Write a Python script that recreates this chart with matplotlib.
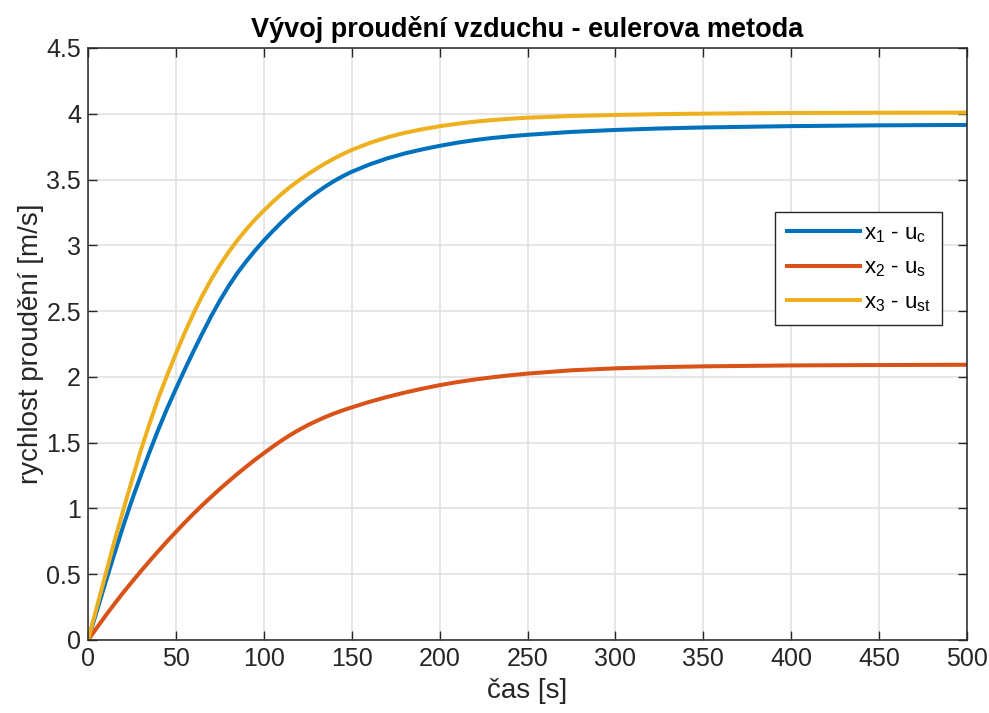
import numpy as np
import matplotlib
matplotlib.use("Agg")
import matplotlib.pyplot as plt
from matplotlib.ticker import FuncFormatter

plt.rcParams['font.family'] = ['Liberation Sans', 'DejaVu Sans']
plt.rcParams['mathtext.fontset'] = 'custom'
plt.rcParams['mathtext.rm'] = 'Liberation Sans'

# time samples [s]
t = list(range(0, 151, 5)) + list(range(160, 251, 10)) + [275, 300, 325, 350, 400, 450, 500]

# x1 - u_c
u_c = [0, 0.22, 0.44, 0.655, 0.865, 1.065, 1.25, 1.43, 1.60, 1.76, 1.91,
       2.055, 2.195, 2.33, 2.46, 2.58, 2.69, 2.79, 2.878, 2.96, 3.036,
       3.107, 3.174, 3.237, 3.296, 3.351, 3.401, 3.447, 3.489, 3.526, 3.559,
       3.614, 3.66, 3.698, 3.729, 3.756, 3.78, 3.80, 3.816, 3.829, 3.84,
       3.862, 3.877, 3.888, 3.896, 3.906, 3.912, 3.915]

# x2 - u_s
u_s = [0, 0.093, 0.185, 0.274, 0.36, 0.442, 0.522, 0.60, 0.676, 0.75, 0.822,
       0.892, 0.96, 1.025, 1.087, 1.148, 1.206, 1.263, 1.317, 1.37, 1.42,
       1.469, 1.515, 1.558, 1.597, 1.633, 1.665, 1.695, 1.722, 1.746, 1.768,
       1.81, 1.847, 1.88, 1.91, 1.937, 1.96, 1.98, 1.997, 2.012, 2.025,
       2.05, 2.065, 2.074, 2.08, 2.087, 2.09, 2.092]

# x3 - u_st
u_st = [0, 0.25, 0.50, 0.75, 0.985, 1.215, 1.44, 1.645, 1.838, 2.012, 2.178,
        2.336, 2.482, 2.617, 2.739, 2.849, 2.949, 3.039, 3.121, 3.196, 3.264,
        3.329, 3.389, 3.444, 3.494, 3.54, 3.583, 3.623, 3.66, 3.694, 3.725,
        3.777, 3.82, 3.855, 3.882, 3.905, 3.924, 3.94, 3.952, 3.962, 3.97,
        3.983, 3.991, 3.997, 4.001, 4.006, 4.008, 4.009]

labels = [r'x$_\mathregular{1}$ - u$_\mathregular{c}$',
          r'x$_\mathregular{2}$ - u$_\mathregular{s}$',
          r'x$_\mathregular{3}$ - u$_\mathregular{st}$']
colors = ['#0072BD', '#D95319', '#EDB120']

fig = plt.figure(figsize=(9.89, 7.13), dpi=100)
ax = fig.add_axes([0.089, 0.1024, 0.8888, 0.8303])

for y, lab, c in zip([u_c, u_s, u_st], labels, colors):
    ax.plot(t, y, color=c, linewidth=2.9, label=lab, solid_joinstyle='round')

ax.set_xlim(0, 500)
ax.set_ylim(0, 4.5)
ax.set_xticks(np.arange(0, 501, 50))
ax.set_yticks(np.arange(0, 4.51, 0.5))
ax.yaxis.set_major_formatter(FuncFormatter(lambda v, p: f'{v:g}'))

ax.grid(True, color='#dfdfdf', linewidth=1.1)
ax.set_axisbelow(True)
ax.tick_params(direction='in', top=True, right=True, length=6.5, width=1.0,
               colors='#262626', labelsize=18, pad=5)
for s in ax.spines.values():
    s.set_color('#262626')
    s.set_linewidth(1.1)

ax.set_title('Vývoj proudění vzduchu - eulerova metoda', fontsize=19.5,
             fontweight='bold', pad=8)
ax.set_xlabel('čas [s]', fontsize=20, color='#262626', labelpad=5)
ax.set_ylabel('rychlost proudění [m/s]', fontsize=20, color='#262626', labelpad=2)

leg = ax.legend(loc='upper right', bbox_to_anchor=(0.972, 0.723),
                borderaxespad=0, fontsize=16, handlelength=3.3,
                fancybox=False, framealpha=1, edgecolor='#262626',
                labelspacing=0.58, handletextpad=0.2, borderpad=0.5)
leg.get_frame().set_linewidth(1.0)

fig.savefig('out.png', dpi=100)
